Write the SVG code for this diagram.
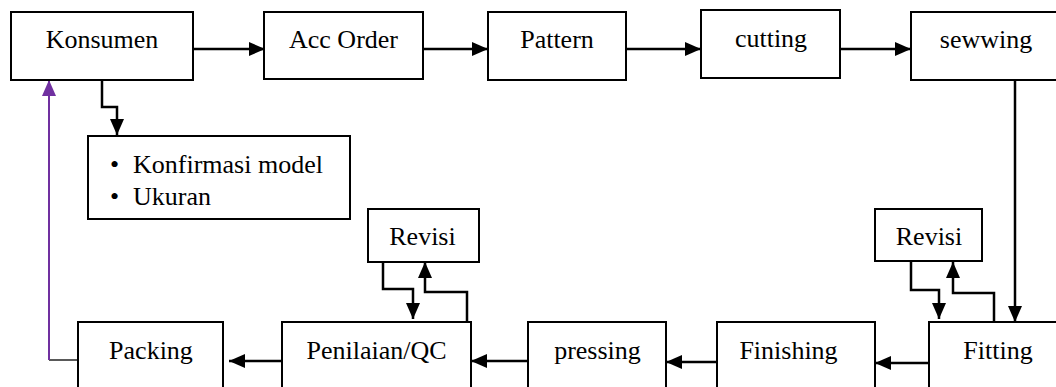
<svg xmlns="http://www.w3.org/2000/svg" width="1056" height="387" viewBox="0 0 1056 387">
<style>
.box{fill:#fff;stroke:#000;stroke-width:2}
.t{font-family:"Liberation Serif","Times New Roman",serif;font-size:26px;fill:#000;text-anchor:middle}
.tl{font-family:"Liberation Serif","Times New Roman",serif;font-size:26px;fill:#000}
.c{fill:none;stroke:#000;stroke-width:2.5}
</style>
<defs>
<marker id="ah" markerUnits="userSpaceOnUse" markerWidth="16" markerHeight="14" refX="16" refY="7" orient="auto">
<path d="M0,0 L16,7 L0,14 z" fill="#000"/>
</marker>
<marker id="ahp" markerUnits="userSpaceOnUse" markerWidth="16" markerHeight="14" refX="16" refY="7" orient="auto">
<path d="M0,0 L16,7 L0,14 z" fill="#7030A0"/>
</marker>
</defs>
<rect width="1056" height="387" fill="#fff"/>
<g id="connectors">
<path class="c" d="M193,49 H265" marker-end="url(#ah)"/>
<path class="c" d="M423,49 H488" marker-end="url(#ah)"/>
<path class="c" d="M627,49 H701" marker-end="url(#ah)"/>
<path class="c" d="M840,49 H911" marker-end="url(#ah)"/>
<path class="c" d="M1015,80 V322" marker-end="url(#ah)"/>
<path class="c" d="M994,322 V293 H953 V262" marker-end="url(#ah)"/>
<path class="c" d="M911,261 V290 H939 V319" marker-end="url(#ah)"/>
<path class="c" d="M929,363 H875" marker-end="url(#ah)"/>
<path class="c" d="M717,362 H666" marker-end="url(#ah)"/>
<path class="c" d="M528,361 H471" marker-end="url(#ah)"/>
<path class="c" d="M467,322 V292 H425 V262" marker-end="url(#ah)"/>
<path class="c" d="M383,262 V289 H413 V319" marker-end="url(#ah)"/>
<path class="c" d="M282,361 H229" marker-end="url(#ah)"/>
<path class="c" d="M102,80 V107 H117 V135" marker-end="url(#ah)"/>
<path d="M78,360 H49" fill="none" stroke="#222" stroke-width="1.5"/>
<path d="M49,360 V80" fill="none" stroke="#7030A0" stroke-width="2" marker-end="url(#ahp)"/>
</g>
<g id="konsumen"><rect class="box" x="11" y="12" width="182" height="68"/><text class="t" x="102" y="48">Konsumen</text></g>
<g id="acc-order"><rect class="box" x="264" y="12" width="159" height="67"/><text class="t" x="343.5" y="48">Acc Order</text></g>
<g id="pattern"><rect class="box" x="488" y="12" width="138" height="68"/><text class="t" x="557" y="48">Pattern</text></g>
<g id="cutting"><rect class="box" x="701" y="10" width="139" height="68"/><text class="t" x="771" y="47">cutting</text></g>
<g id="sewwing"><rect class="box" x="911" y="12" width="152" height="68"/><text class="t" x="986" y="48">sewwing</text></g>
<g id="info"><rect class="box" x="88" y="136" width="262" height="83"/>
<text class="tl" x="110" y="173">•</text><text class="tl" x="133" y="173">Konfirmasi model</text>
<text class="tl" x="110" y="205">•</text><text class="tl" x="133" y="205">Ukuran</text></g>
<g id="revisi-1"><rect class="box" x="368" y="209" width="111" height="53"/><text class="t" x="422.5" y="245">Revisi</text></g>
<g id="revisi-2"><rect class="box" x="875" y="209" width="107" height="52"/><text class="t" x="929" y="245">Revisi</text></g>
<g id="packing"><rect class="box" x="78" y="322" width="145" height="80"/><text class="t" x="151" y="359">Packing</text></g>
<g id="penilaian-qc"><rect class="box" x="282" y="322" width="189" height="80"/><text class="t" x="376.5" y="359">Penilaian/QC</text></g>
<g id="pressing"><rect class="box" x="528" y="322" width="138" height="80"/><text class="t" x="597.5" y="359">pressing</text></g>
<g id="finishing"><rect class="box" x="717" y="322" width="158" height="80"/><text class="t" x="788.5" y="359">Finishing</text></g>
<g id="fitting"><rect class="box" x="929" y="322" width="140" height="80"/><text class="t" x="998" y="359">Fitting</text></g>
</svg>
